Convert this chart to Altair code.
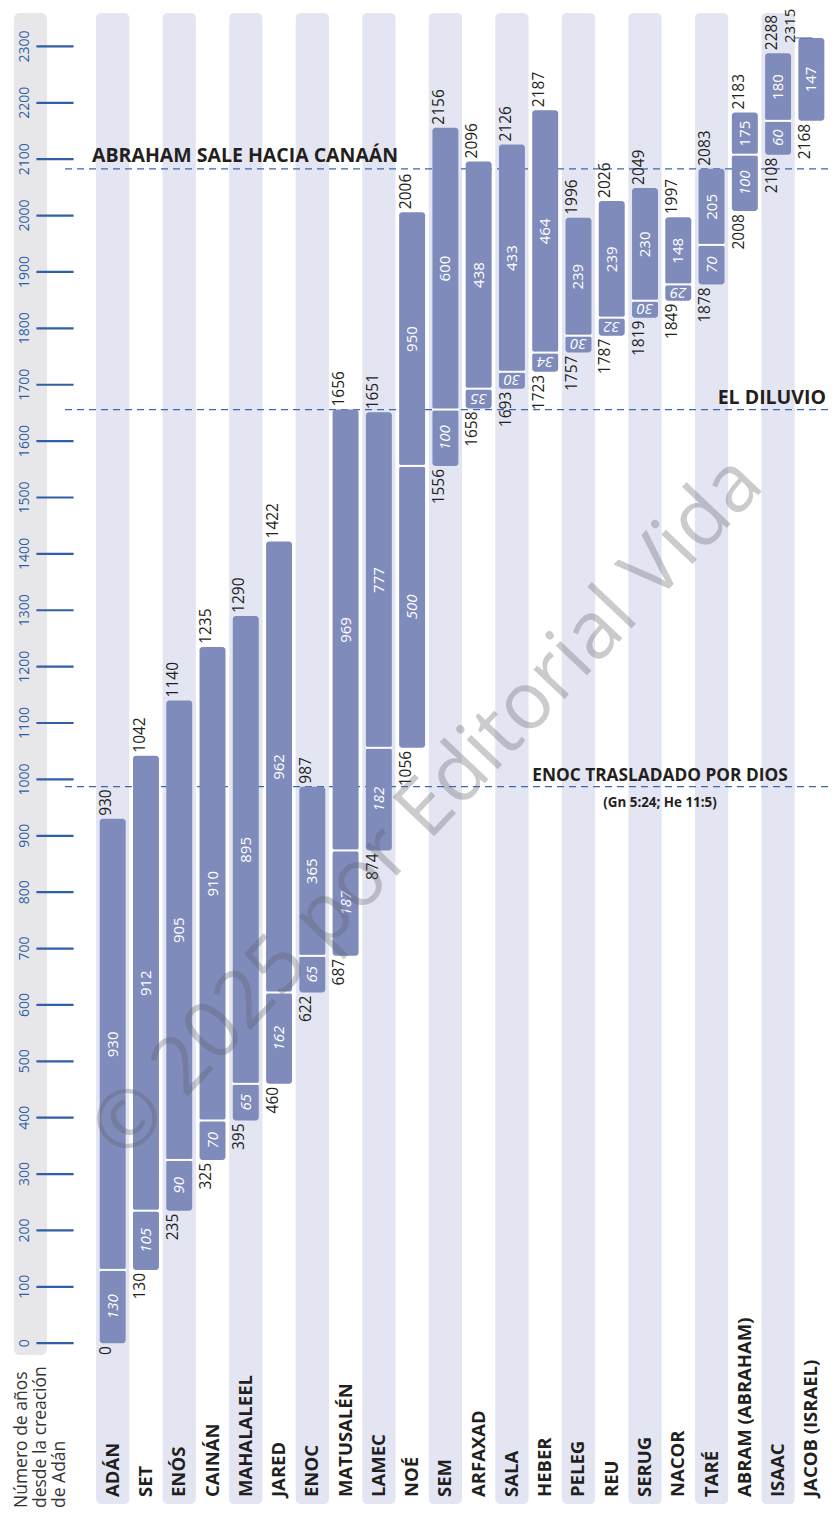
import altair as alt
import pandas as pd

# ---------------- data ----------------
names = ["ADÁN", "SET", "ENÓS", "CAINÁN", "MAHALALEEL", "JARED", "ENOC",
         "MATUSALÉN", "LAMEC", "NOÉ", "SEM", "ARFAXAD", "SALA", "HEBER",
         "PELEG", "REU", "SERUG", "NACOR", "TARÉ", "ABRAM (ABRAHAM)",
         "ISAAC", "JACOB (ISRAEL)"]
births = [0, 130, 235, 325, 395, 460, 622, 687, 874, 1056, 1556, 1658, 1693,
          1723, 1757, 1787, 1819, 1849, 1878, 2008, 2108, 2168]
father_age = [130, 105, 90, 70, 65, 162, 65, 187, 182, 500, 100, 35, 30, 34,
              30, 32, 30, 29, 70, 100, 60, None]
lifespan = [930, 912, 905, 910, 895, 962, 365, 969, 777, 950, 600, 438, 433,
            464, 239, 239, 230, 148, 205, 175, 180, 147]
flipped = ["ARFAXAD", "SALA", "HEBER", "PELEG", "REU", "SERUG", "NACOR"]
moved_top_label = "JACOB (ISRAEL)"
tick_values = list(range(0, 2301, 100))
event_labels = ["ABRAHAM SALE HACIA CANAÁN", "EL DILUVIO", "ENOC TRASLADADO POR DIOS"]
event_years = [2083, 1656, 987]
event_note = "(Gn 5:24; He 11:5)"
axis_title = "Número de años\ndesde la creación\nde Adán"
watermark = "© 2025 por Editorial Vida"

# ---------------- style ----------------
W, H = 820, 1504
BAR = "#7f8bbb"
BAND = "#e3e6f2"
AXIS_BAND = "#e7e7ea"
BLUE = "#2f5fa7"
INK = "#231f20"
FONT = "Open Sans"
NUM = 15.5

xs = alt.Scale(domain=[-3.147, 21.5], nice=False, zero=False)
ys = alt.Scale(domain=[-299.4, 2368.2], nice=False, zero=False)

people = pd.DataFrame({"name": names, "idx": list(range(len(names))),
                       "birth": births, "fage": father_age, "life": lifespan})
people["death"] = people["birth"] + people["life"]
people["split"] = people["birth"] + people["fage"].fillna(0)
people["xl"] = people["idx"] - 0.39
people["xr"] = people["idx"] + 0.39
people["lab_x"] = people["idx"] - 0.40
people["moved"] = people["name"] == moved_top_label
people["top_x"] = people["lab_x"]
people.loc[people["moved"], "top_x"] = people["idx"] - 0.853
people["flip"] = people["name"].isin(flipped)

segs = []
for _, r in people.iterrows():
    if pd.notna(r["fage"]):
        segs.append({"name": r["name"], "xl": r["xl"], "xr": r["xr"], "idx": r["idx"],
                     "y1": r["birth"], "y2": r["split"], "label": int(r["fage"]),
                     "kind": "fage", "flip": bool(r["flip"])})
    segs.append({"name": r["name"], "xl": r["xl"], "xr": r["xr"], "idx": r["idx"],
                 "y1": r["split"], "y2": r["death"], "label": int(r["life"]),
                 "kind": "life", "flip": False})
segs = pd.DataFrame(segs)
segs["mid"] = (segs["y1"] + segs["y2"]) / 2

bands = people[people["idx"] % 2 == 0].copy()
bands["bl"] = bands["idx"] - 0.5
bands["br"] = bands["idx"] + 0.5

events = pd.DataFrame({"event": event_labels, "year": event_years})
ticks = pd.DataFrame({"v": tick_values})
one = pd.DataFrame({"a": [0]})


def X(f):
    return alt.X(f, scale=xs, axis=None)


def Yn(f):
    return alt.Y(f, scale=ys, axis=None)


axis_band = alt.Chart(one).mark_rect(color=AXIS_BAND, cornerRadius=6).encode(
    x=alt.value(5.9), x2=alt.value(39.1), y=alt.value(4.9), y2=alt.value(1347))

tick_marks = alt.Chart(ticks).mark_rule(color=BLUE, strokeWidth=2.2).encode(
    y=Yn("v:Q"), x=alt.value(28.4), x2=alt.value(65.6))

tick_labels = alt.Chart(ticks).mark_text(
    angle=270, align="center", baseline="middle", fontSize=14, font=FONT,
    color=BLUE).encode(x=alt.value(17.3), y=Yn("v:Q"), text=alt.Text("v:Q", format="d"))

col_bands = alt.Chart(bands).mark_rect(color=BAND, cornerRadius=5).encode(
    x=X("bl:Q"), x2="br:Q", y=alt.value(4.9), y2=alt.value(1496))

rules = alt.Chart(events).mark_rule(color="#3a68b2", strokeWidth=1.2,
                                    strokeDash=[7, 5]).encode(
    y=Yn("year:Q"), x=alt.value(57), x2=alt.value(820))

bars = alt.Chart(segs).mark_rect(color=BAR, cornerRadius=3).encode(
    x=X("xl:Q"), x2="xr:Q", y=Yn("y1:Q"), y2="y2:Q")

gaps = alt.Chart(people[people["fage"].notna()]).mark_rule(
    color="white", strokeWidth=2).encode(x=X("xl:Q"), x2="xr:Q", y=Yn("split:Q"))

top_labels = alt.Chart(people[~people["moved"]]).mark_text(
    angle=270, align="left", baseline="top", dx=3, fontSize=NUM, font=FONT,
    color=INK).encode(x=X("top_x:Q"), y=Yn("death:Q"),
                      text=alt.Text("death:Q", format="d"))

top_moved = alt.Chart(people[people["moved"]]).mark_text(
    angle=270, align="left", baseline="top", dx=-5, fontSize=15, font=FONT,
    color=INK).encode(x=X("top_x:Q"), y=Yn("death:Q"),
                      text=alt.Text("death:Q", format="d"))

bottom_labels = alt.Chart(people).mark_text(
    angle=270, align="right", baseline="top", dx=-3, fontSize=NUM, font=FONT,
    color=INK).encode(x=X("lab_x:Q"), y=Yn("birth:Q"),
                      text=alt.Text("birth:Q", format="d"))

leader = alt.Chart(people[people["moved"]]).mark_rule(
    color="#3a68b2", strokeWidth=1).transform_calculate(
    la="datum.idx - 0.53", lb="datum.idx + 0.03").encode(
    x=X("la:Q"), x2="lb:Q", y=Yn("death:Q"))

life_labels = alt.Chart(segs[segs["kind"] == "life"]).mark_text(
    angle=270, align="center", baseline="middle", fontSize=15, font=FONT,
    color="white").encode(x=X("idx:Q"), y=Yn("mid:Q"), text=alt.Text("label:Q", format="d"))

fage_labels = alt.Chart(segs[(segs["kind"] == "fage") & (~segs["flip"])]).mark_text(
    angle=270, align="center", baseline="middle", fontSize=15, font=FONT,
    fontStyle="italic", color="white").encode(
    x=X("idx:Q"), y=Yn("mid:Q"), text=alt.Text("label:Q", format="d"))

fage_flip = alt.Chart(segs[(segs["kind"] == "fage") & (segs["flip"])]).mark_text(
    angle=180, align="center", baseline="middle", fontSize=15, font=FONT,
    fontStyle="italic", color="white").encode(
    x=X("idx:Q"), y=Yn("mid:Q"), text=alt.Text("label:Q", format="d"))

name_labels = alt.Chart(people).mark_text(
    angle=270, align="left", baseline="middle", fontSize=18.5, font=FONT,
    fontWeight="bold", color=INK).encode(x=X("idx:Q"), y=alt.value(1489), text="name:N")

title_text = alt.Chart(one).mark_text(
    angle=270, align="left", baseline="top", fontSize=17.5, font=FONT,
    lineBreak="\n", lineHeight=19, color="#333333").encode(
    x=alt.value(5), y=alt.value(1500), text=alt.value(axis_title))

ev_abraham = alt.Chart(events[events["event"] == event_labels[0]]).mark_text(
    align="left", baseline="alphabetic", dy=-7, fontSize=19.5, font=FONT,
    fontWeight="bold", color=INK).encode(x=alt.value(84), y=Yn("year:Q"), text="event:N")

ev_flood = alt.Chart(events[events["event"] == event_labels[1]]).mark_text(
    align="right", baseline="alphabetic", dy=-6, fontSize=19.5, font=FONT,
    fontWeight="bold", color=INK).encode(x=alt.value(818), y=Yn("year:Q"), text="event:N")

ev_enoc = alt.Chart(events[events["event"] == event_labels[2]]).mark_text(
    align="center", baseline="alphabetic", dy=-6, fontSize=17.3, font=FONT,
    fontWeight="bold", color=INK).encode(x=alt.value(652), y=Yn("year:Q"), text="event:N")

ev_note = alt.Chart(events[events["event"] == event_labels[2]]).mark_text(
    align="center", baseline="alphabetic", dy=20, fontSize=13.4, font=FONT,
    fontWeight="bold", color=INK).encode(x=alt.value(652), y=Yn("year:Q"),
                                         text=alt.value(event_note))

mark_wm = alt.Chart(one).mark_text(
    angle=313.5, align="center", baseline="middle", fontSize=80, font=FONT,
    color="#60606a", opacity=0.32).encode(
    x=alt.value(420), y=alt.value(800), text=alt.value(watermark))

chart = alt.layer(
    axis_band, tick_marks, tick_labels, col_bands, rules, bars, gaps,
    top_labels, top_moved, bottom_labels, leader,
    life_labels, fage_labels, fage_flip, name_labels, title_text,
    ev_abraham, ev_flood, ev_enoc, ev_note, mark_wm
).properties(
    width=W, height=H, padding=0, autosize=alt.AutoSizeParams(type="none"),
    background="white"
).configure_view(stroke=None)

chart.save("out.html", embed_options={"renderer": "svg", "actions": False})
